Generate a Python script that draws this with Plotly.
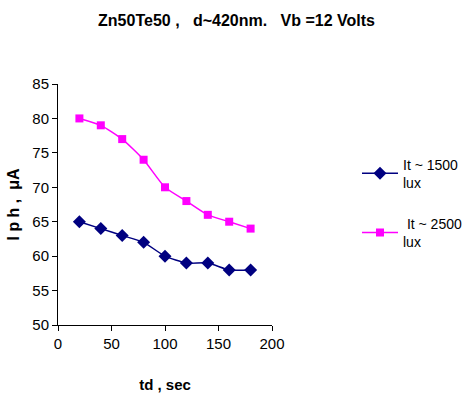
import plotly.graph_objects as go

td = [20, 40, 60, 80, 100, 120, 140, 160, 180]
iph_1500 = [65, 64, 63, 62, 60, 59, 59, 58, 58]
iph_2500 = [80, 79, 77, 74, 70, 68, 66, 65, 64]
names = ["It ~ 1500<br>lux", " It ~ 2500<br>lux"]

fig = go.Figure()
fig.add_trace(go.Scatter(x=td, y=iph_1500, mode="lines+markers", name=names[0], legendgroup="a",
                         line=dict(color="#000080", width=1.5, shape="spline", smoothing=0.6),
                         marker=dict(symbol="diamond", size=10, color="#000080")))
fig.add_trace(go.Scatter(x=td, y=iph_2500, mode="lines+markers", name=names[1], legendgroup="b",
                         line=dict(color="#FF00FF", width=1.5, shape="spline", smoothing=0.6),
                         marker=dict(symbol="square", size=8, color="#FF00FF")))

font = "Liberation Sans Narrow, Arial Narrow, Liberation Sans, sans-serif"
fig.update_layout(
    width=473, height=396,
    margin=dict(l=58, r=201, t=84, b=71),
    paper_bgcolor="white", plot_bgcolor="white",
    font=dict(family=font, size=15, color="black"),
    title=dict(text="<b>Zn50Te50 ,   d~420nm.   Vb =12 Volts</b>", x=0.5, xanchor="center",
               y=1 - 20/396, yanchor="middle", font=dict(size=16)),
    xaxis=dict(range=[0, 200], tickvals=[0, 50, 100, 150, 200], showgrid=False, zeroline=False,
               showline=True, linecolor="black", linewidth=1, ticks="outside", ticklen=5,
               tickcolor="black", automargin=False,
               title=dict(text="<b>td , sec</b>", font=dict(size=15), standoff=28)),
    yaxis=dict(range=[50, 85], tickvals=[50, 55, 60, 65, 70, 75, 80, 85], showgrid=False,
               zeroline=False, showline=True, linecolor="black", linewidth=1, ticks="outside",
               ticklen=5, tickcolor="black", automargin=False,
               title=dict(text="<b>I p h ,  μA</b>", font=dict(size=16), standoff=8)),
    legend=dict(xref="container", yref="container", x=357 / 473, y=1 - 203 / 396,
                xanchor="left", yanchor="middle",
                font=dict(size=14), tracegroupgap=20, itemwidth=36),
)
fig.write_html("out.html")
